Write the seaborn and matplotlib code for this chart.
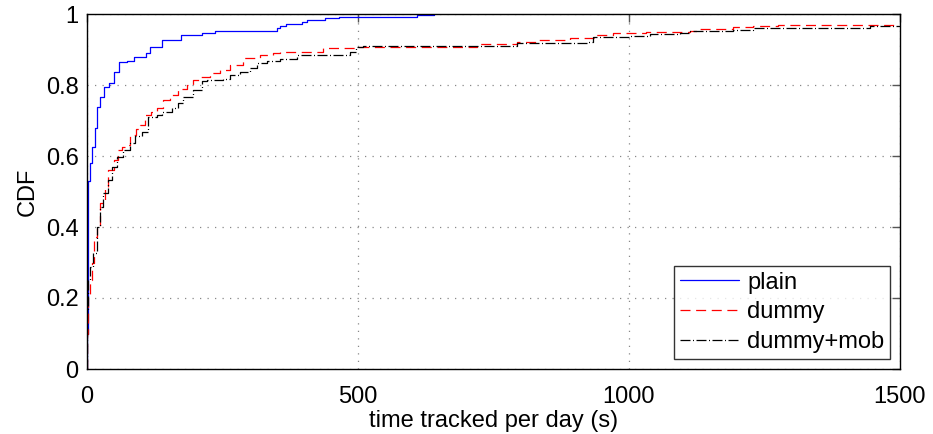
import matplotlib
matplotlib.use("Agg")
import matplotlib.pyplot as plt
import seaborn as sns
import pandas as pd

plain_x = [0, 0, 1, 5, 10, 14, 18, 24, 31, 41, 50, 59, 74, 87, 108, 117, 138, 173, 212,
           236, 350, 356, 368, 396, 405, 439, 465, 608, 640]
plain_y = [0, 0.10, 0.53, 0.58, 0.625, 0.68, 0.738, 0.767, 0.795, 0.806, 0.837, 0.866, 0.868,
           0.88, 0.89, 0.908, 0.927, 0.94, 0.946, 0.953, 0.96, 0.967, 0.972, 0.978, 0.984,
           0.988, 0.992, 0.997, 1.0]

dummy_x = [0, 0, 2.5, 5, 8.6, 13, 18, 24, 33, 39, 49, 58, 64, 70, 79, 90, 98, 107, 119, 129,
           141, 153, 168, 184, 196, 208, 227, 245, 264, 288, 319, 344, 356, 417, 436, 497,
           541, 719, 793, 833, 891, 940, 971, 1032, 1060, 1113, 1131, 1192, 1229, 1275, 1491]
dummy_y = [0, 0.10, 0.204, 0.25, 0.298, 0.373, 0.40, 0.467, 0.514, 0.56, 0.589, 0.617, 0.626,
           0.63, 0.659, 0.675, 0.687, 0.715, 0.725, 0.734, 0.758, 0.772, 0.79, 0.80, 0.814,
           0.823, 0.833, 0.842, 0.856, 0.875, 0.884, 0.891, 0.894, 0.894, 0.903, 0.906, 0.908,
           0.915, 0.92, 0.927, 0.932, 0.941, 0.946, 0.949, 0.95, 0.953, 0.958, 0.964, 0.966,
           0.969, 0.969]

mob_x = [0, 0, 2, 5.5, 11.6, 18, 24, 30, 39, 45.5, 55, 67, 79, 88.5, 101, 113, 128.6, 138,
         156, 168, 178, 196, 211.5, 221, 251, 264, 282, 301, 313, 331.5, 356, 387, 485, 497,
         510, 793, 922, 934, 1002, 1039, 1094, 1113, 1143, 1192, 1229, 1435, 1445, 1500]
mob_y = [0, 0.17, 0.25, 0.288, 0.326, 0.40, 0.457, 0.495, 0.532, 0.57, 0.598, 0.617, 0.636,
         0.655, 0.669, 0.711, 0.715, 0.725, 0.734, 0.748, 0.767, 0.786, 0.81, 0.814, 0.816,
         0.828, 0.837, 0.847, 0.861, 0.868, 0.872, 0.884, 0.894, 0.906, 0.911, 0.917, 0.922,
         0.934, 0.937, 0.943, 0.946, 0.951, 0.953, 0.955, 0.96, 0.96, 0.966, 0.966]

labels = ["plain", "dummy", "dummy+mob"]
x_ticks = [0, 500, 1000, 1500]
y_ticks = [0, 0.2, 0.4, 0.6, 0.8, 1]
y_ticklabels = ["0", "0.2", "0.4", "0.6", "0.8", "1"]

sns.set_style("white")
plt.rcParams["font.family"] = ["Liberation Sans", "DejaVu Sans"]
plt.rcParams["text.color"] = "black"
plt.rcParams["axes.labelcolor"] = "black"
plt.rcParams["xtick.labelcolor"] = "black"
plt.rcParams["ytick.labelcolor"] = "black"

fig = plt.figure(figsize=(9.33, 4.34), dpi=100)
ax = fig.add_axes([87 / 933, 1 - 369 / 434, 813 / 933, 355 / 434])

series = [
    (plain_x, plain_y, labels[0], "#0000ff", None),
    (dummy_x, dummy_y, labels[1], "#ff0000", (8, 4.5)),
    (mob_x, mob_y, labels[2], "#000000", (8, 2, 0.8, 2)),
]
for xs, ys, lab, col, dash in series:
    df = pd.DataFrame({"x": xs, "y": ys})
    sns.lineplot(data=df, x="x", y="y", ax=ax, color=col, estimator=None, sort=False,
                 drawstyle="steps-post", linewidth=0.9, label=lab)
    if dash is not None:
        ax.lines[-1].set_dashes(dash)

ax.set_xlim(0, 1500)
ax.set_ylim(0, 1)
ax.set_xticks(x_ticks)
ax.set_yticks(y_ticks)
ax.set_yticklabels(y_ticklabels)
ax.tick_params(axis="both", which="both", direction="in", length=6, width=1,
               color="#555555", labelsize=17, labelcolor="black", top=True, right=True)
ax.tick_params(axis="x", pad=12)
ax.tick_params(axis="y", pad=6)
ax.grid(True, linestyle=(0, (1, 5)), color="#888888", linewidth=0.9)
for sp in ax.spines.values():
    sp.set_visible(True)
    sp.set_color("black")
    sp.set_linewidth(1.0)
ax.set_xlabel("time tracked per day (s)", fontsize=17, labelpad=2, color="black")
ax.set_ylabel("CDF", fontsize=17, labelpad=5, color="black")

leg = ax.legend(loc="lower right", bbox_to_anchor=(1 - 10 / 813, 10 / 355), borderaxespad=0,
                fontsize=17, frameon=True, fancybox=False, edgecolor="black",
                handlelength=2.5, handletextpad=0.35, labelspacing=0.33, borderpad=0.25)
leg.get_frame().set_linewidth(1.0)
for t in leg.get_texts():
    t.set_color("black")

fig.savefig("out.png", dpi=100)
